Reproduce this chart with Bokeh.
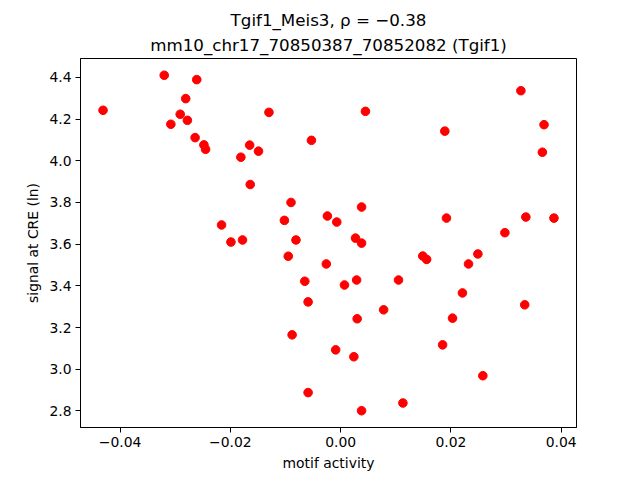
from bokeh.plotting import figure
from bokeh.models import Range1d, FixedTicker, Title
from bokeh.embed import file_html
from bokeh.resources import INLINE

# motif activity (x) and signal at CRE (y)
motif_activity = [
    -0.0320, -0.0261, -0.0281, -0.0431, -0.0130, -0.0291, -0.0278, -0.0308,
    -0.0264, -0.0248, -0.0245, -0.0053, -0.0165, -0.0149, -0.0181, -0.0164,
    -0.0090, -0.0024, -0.0102, -0.0216, -0.0199, -0.0178, -0.0081, -0.0095,
    -0.0026, -0.0065, -0.0059, -0.0088, -0.0059, 0.0327, 0.0045, 0.0369,
    0.0189, 0.0366, 0.0038, -0.0007, 0.0192, 0.0336, 0.0387, 0.0298,
    0.0027, 0.0038, 0.0149, 0.0156, 0.0249, 0.0232, 0.0007, 0.0029,
    0.0105, 0.0221, 0.0334, 0.0078, 0.0030, 0.0203, -0.0009, 0.0024,
    0.0185, 0.0258, 0.0113, 0.0038,
]
signal = [
    4.410, 4.389, 4.298, 4.242, 4.232, 4.223, 4.194, 4.175,
    4.111, 4.076, 4.055, 4.098, 4.075, 4.046, 4.017, 3.886,
    3.800, 3.735, 3.714, 3.692, 3.610, 3.620, 3.620, 3.542,
    3.505, 3.422, 3.323, 3.165, 2.888, 4.336, 4.237, 4.173,
    4.142, 4.041, 3.778, 3.706, 3.725, 3.730, 3.725, 3.655,
    3.629, 3.605, 3.543, 3.527, 3.553, 3.505, 3.404, 3.428,
    3.428, 3.366, 3.309, 3.285, 3.242, 3.245, 3.093, 3.060,
    3.117, 2.969, 2.838, 2.801,
]

x_ticks = [-0.04, -0.02, 0.0, 0.02, 0.04]
x_tick_labels = ["\u22120.04", "\u22120.02", "0.00", "0.02", "0.04"]
y_ticks = [2.8, 3.0, 3.2, 3.4, 3.6, 3.8, 4.0, 4.2, 4.4]
y_tick_labels = ["2.8", "3.0", "3.2", "3.4", "3.6", "3.8", "4.0", "4.2", "4.4"]

title_line1 = "Tgif1_Meis3, \u03c1 = \u22120.38"
title_line2 = "mm10_chr17_70850387_70852082 (Tgif1)"
x_label = "motif activity"
y_label = "signal at CRE (ln)"

FONT = "DejaVu Sans"

xmin, xmax = min(motif_activity), max(motif_activity)
ymin, ymax = min(signal), max(signal)
xr, yr = xmax - xmin, ymax - ymin

p = figure(
    width=640, height=480,
    frame_width=496, frame_height=369,
    min_border_left=80, min_border_right=64,
    min_border_top=58, min_border_bottom=53,
    x_range=Range1d(xmin - 0.05 * xr, xmax + 0.05 * xr),
    y_range=Range1d(ymin - 0.05 * yr, ymax + 0.05 * yr),
    output_backend="svg", toolbar_location=None,
)
p.title = None
t2 = Title(text=title_line2, align="center", text_font=FONT,
           text_font_size="16.7px", text_font_style="normal",
           text_color="black", standoff=7, text_line_height=1.0)
t1 = Title(text=title_line1, align="center", text_font=FONT,
           text_font_size="16.7px", text_font_style="normal",
           text_color="black", standoff=0, text_line_height=1.0)
p.add_layout(t2, "above")
p.add_layout(t1, "above")

p.scatter(motif_activity, signal, size=8.6, color="#ff0000",
          line_color="#ff0000", marker="circle")

p.xgrid.visible = False
p.ygrid.visible = False
p.outline_line_color = "black"
p.outline_line_alpha = 1.0
p.outline_line_width = 1
p.background_fill_color = "white"
p.border_fill_color = "white"

p.xaxis.ticker = FixedTicker(ticks=x_ticks)
p.xaxis.major_label_overrides = dict(zip(x_ticks, x_tick_labels))
p.yaxis.ticker = FixedTicker(ticks=y_ticks)
p.yaxis.major_label_overrides = dict(zip(y_ticks, y_tick_labels))

for ax in (p.xaxis[0], p.yaxis[0]):
    ax.minor_tick_line_color = None
    ax.major_tick_out = 5
    ax.major_tick_in = 0
    ax.major_tick_line_color = "black"
    ax.axis_line_color = "black"
    ax.major_label_text_font = FONT
    ax.major_label_text_font_size = "13.9px"
    ax.major_label_text_color = "black"
    ax.major_label_standoff = 4
    ax.axis_label_text_font = FONT
    ax.axis_label_text_font_size = "13.9px"
    ax.axis_label_text_font_style = "normal"
    ax.axis_label_text_color = "black"
    ax.axis_label_standoff = 5

p.xaxis.axis_label = x_label
p.yaxis.axis_label = y_label

open("out.html", "w").write(file_html(p, INLINE))
